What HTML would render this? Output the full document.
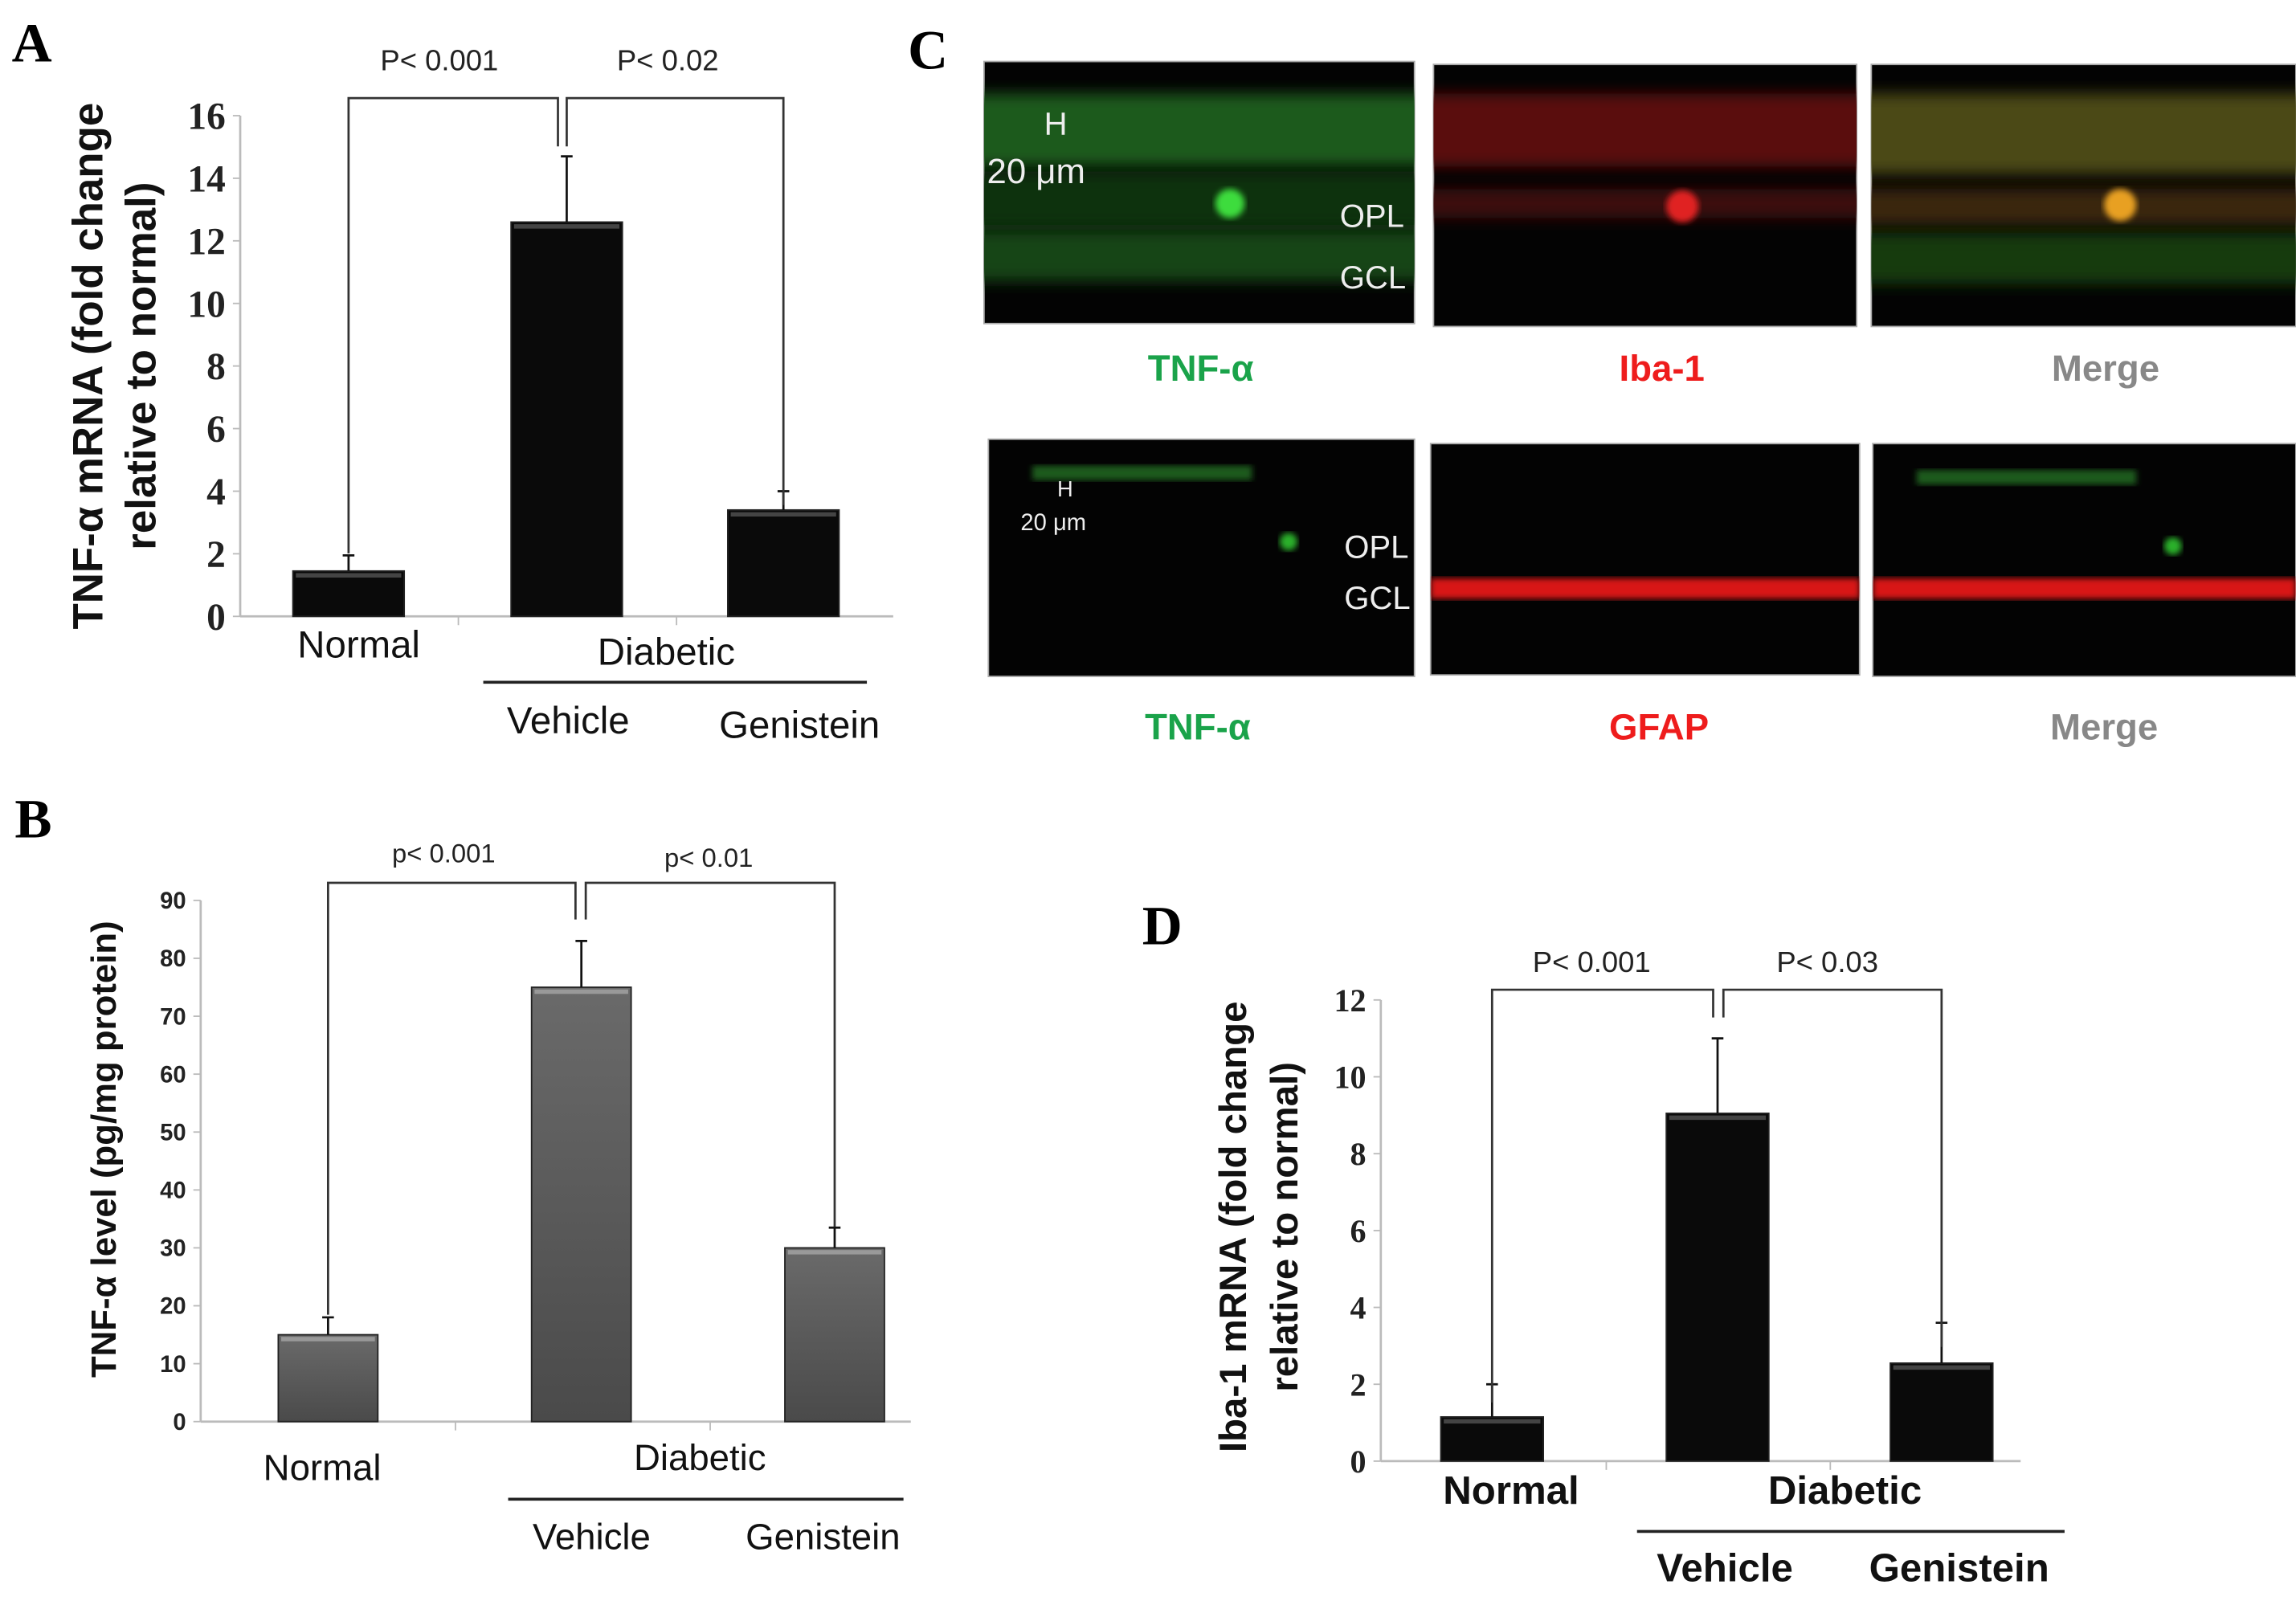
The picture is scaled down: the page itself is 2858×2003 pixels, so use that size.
<!DOCTYPE html>
<html><head><meta charset="utf-8"><style>
html,body{margin:0;padding:0;background:#fff;}
svg{display:block;}
text{font-family:"Liberation Sans",sans-serif;}
.ser{font-family:"Liberation Serif",serif;}
</style></head><body>
<svg id="fig" width="2858" height="2003" viewBox="0 0 1568 1099" xmlns="http://www.w3.org/2000/svg">
<defs>
<linearGradient id="gb" x1="0" x2="0" y1="0" y2="1"><stop offset="0" stop-color="#6a6a6a"/><stop offset="1" stop-color="#4a4a4a"/></linearGradient>
<filter id="blur" x="-20%" y="-50%" width="140%" height="200%"><feGaussianBlur stdDeviation="5"/></filter>
<filter id="blur2"><feGaussianBlur stdDeviation="2"/></filter>
</defs>
<g id="root"></g>
</svg>
<script>
// ---- Panel A data ----
const catsA = ["Normal", "Vehicle", "Genistein"];
const valsA = [1.45, 12.6, 3.4];
const errA = [1.95, 14.7, 4.0];
const ticksA = [0, 2, 4, 6, 8, 10, 12, 14, 16];
// ---- Panel B data ----
const catsB = ["Normal", "Vehicle", "Genistein"];
const valsB = [15, 75, 30];
const errB = [18, 83, 33.5];
const ticksB = [0, 10, 20, 30, 40, 50, 60, 70, 80, 90];
// ---- Panel D data ----
const catsD = ["Normal", "Vehicle", "Genistein"];
const valsD = [1.15, 9.05, 2.55];
const errD = [2.0, 11.0, 3.6];
const ticksD = [0, 2, 4, 6, 8, 10, 12];

const NS = "http://www.w3.org/2000/svg";
const root = document.getElementById("root");
function mk(tag, attrs, parent, txt) {
  const e = document.createElementNS(NS, tag);
  for (const k in attrs) e.setAttribute(k, attrs[k]);
  if (txt !== undefined) e.textContent = txt;
  (parent || root).appendChild(e);
  return e;
}

function chart(cfg) {
  const g = mk("g", {});
  
  
  const y = v => cfg.y0 - (v - cfg.min) / (cfg.max - cfg.min) * (cfg.y0 - cfg.yTop);
  const ax = mk("line", {x1: cfg.ax, y1: y(cfg.max), x2: cfg.ax, y2: cfg.y0, stroke: "#bbb", "stroke-width": 1.5}, g);
  
  
  const xl = mk("line", {x1: cfg.ax, y1: cfg.y0, x2: cfg.axEnd, y2: cfg.y0, stroke: "#bbb", "stroke-width": 1.5}, g);
  
  
  cfg.sep.forEach(sx => mk("line", {x1: sx, y1: cfg.y0, x2: sx, y2: cfg.y0 + 6, stroke: "#bbb"}, g));
  cfg.ticks.forEach(t => {
    mk("line", {x1: cfg.ax - 5, y1: y(t), x2: cfg.ax, y2: y(t), stroke: "#bbb"}, g);
    const tl = mk("text", {x: cfg.ax - 10, y: y(t) + cfg.tfs * 0.35, "text-anchor": "end", "font-size": cfg.tfs, "font-weight": "bold", class: cfg.tickSerif ? "ser" : "", fill: "#222"}, g, String(t));
    
    
  });
  cfg.vals.forEach((v, i) => {
    const cx = cfg.cx[i];
    const r = mk("rect", {x: cx - cfg.bw / 2, y: y(v), width: cfg.bw, height: cfg.y0 - y(v), fill: cfg.fill, stroke: "#222", "stroke-width": 1}, g);
    
    
    mk("line", {x1: cx - cfg.bw / 2 + 2, y1: y(v) + 3, x2: cx + cfg.bw / 2 - 2, y2: y(v) + 3, stroke: cfg.hl, "stroke-width": 3}, g);
    const e = cfg.err[i];
    const el = mk("path", {d: `M${cx},${y(v)}V${y(e)}M${cx - 4},${y(e)}H${cx + 4}`, stroke: "#111", "stroke-width": 1.5, fill: "none"}, g);
    
    
  });
  const b = cfg.br;
  const p1 = mk("path", {d: `M${cfg.cx[0]},${b.l0}V${b.top}H${b.m1}V${b.mid}`, stroke: "#333", "stroke-width": 1.5, fill: "none"}, g);
  
  
  const p2 = mk("path", {d: `M${b.m2},${b.mid}V${b.top}H${cfg.cx[2]}V${b.r0}`, stroke: "#333", "stroke-width": 1.5, fill: "none"}, g);
  
  
  cfg.ptxt.forEach(p => {
    const t = mk("text", {x: p[0], y: p[1], "text-anchor": "middle", "font-size": cfg.pfs, fill: "#222"}, g, p[2]);
    
    
  });
  cfg.labels.forEach(l => {
    const t = mk("text", {x: l[0], y: l[1], "text-anchor": "middle", "font-size": cfg.lfs, "font-weight": cfg.lbold ? "bold" : "normal", fill: "#111"}, g, l[2]);
    
    
  });
  mk("line", {x1: cfg.dline[0], y1: cfg.dline[2], x2: cfg.dline[1], y2: cfg.dline[2], stroke: "#222", "stroke-width": 2}, g);
  cfg.title.forEach(tt => {
    const t = mk("text", {x: 0, y: 0, transform: `translate(${tt[0]},${tt[1]}) rotate(-90)`, "text-anchor": "middle", "font-size": cfg.yfs, "font-weight": "bold", fill: "#111"}, g, tt[2]);
    
    
  });
}

chart({name: "panel-a-chart", cats: catsA, vals: valsA, err: errA, ticks: ticksA, min: 0, max: 16, y0: 421, yTop: 79, ax: 164, axEnd: 610, sep: [313, 462],
  cx: [238, 387, 535], bw: 76, fill: "#0a0a0a", hl: "#444", tfs: 26, tickSerif: true,
  br: {top: 67, l0: 378, m1: 381, m2: 387, mid: 100, r0: 345},
  ptxt: [[300, 48, "P< 0.001"], [456, 48, "P< 0.02"]], pfs: 20,
  labels: [[245, 449, "Normal"], [455, 454, "Diabetic"], [388, 501, "Vehicle"], [546, 504, "Genistein"]], lfs: 26,
  dline: [330, 592, 466], title: [[70, 250, "TNF-α mRNA  (fold change"], [106, 250, "relative to normal)"]], yfs: 29});

chart({name: "panel-b-chart", cats: catsB, vals: valsB, err: errB, ticks: ticksB, min: 0, max: 90, y0: 971, yTop: 615, ax: 137, axEnd: 622, sep: [311, 485],
  cx: [224, 397, 570], bw: 68, fill: "url(#gb)", hl: "#999", tfs: 16, tickSerif: false,
  br: {top: 603, l0: 898, m1: 393, m2: 400, mid: 628, r0: 838},
  ptxt: [[303, 589, "p< 0.001"], [484, 592, "p< 0.01"]], pfs: 18,
  labels: [[220, 1011, "Normal"], [478, 1004, "Diabetic"], [404, 1058, "Vehicle"], [562, 1058, "Genistein"]], lfs: 25,
  dline: [347, 617, 1024], title: [[79, 785, "TNF-α level (pg/mg protein)"]], yfs: 24});

chart({name: "panel-d-chart", cats: catsD, vals: valsD, err: errD, ticks: ticksD, min: 0, max: 12, y0: 998, yTop: 683, ax: 943, axEnd: 1380, sep: [1097, 1250],
  cx: [1019, 1173, 1326], bw: 70, fill: "#0a0a0a", hl: "#444", tfs: 22, tickSerif: true,
  br: {top: 676, l0: 958, m1: 1170, m2: 1177, mid: 695, r0: 920},
  ptxt: [[1087, 664, "P< 0.001"], [1248, 664, "P< 0.03"]], pfs: 20,
  labels: [[1032, 1027, "Normal"], [1260, 1027, "Diabetic"], [1178, 1080, "Vehicle"], [1338, 1080, "Genistein"]], lfs: 27, lbold: true,
  dline: [1118, 1410, 1046], title: [[851, 838, "Iba-1 mRNA (fold change"], [886, 838, "relative to normal)"]], yfs: 26});

[["A", 8, 42], ["B", 10, 572], ["C", 620, 47], ["D", 780, 645]].forEach(p => {
  const t = mk("text", {x: p[1], y: p[2], "font-size": 38, "font-weight": "bold", class: "ser", fill: "#000"}, root, p[0]);
  
  
});

const imgs = [
  {x: 672, y: 42, w: 294, h: 179, n: "tnf-top", g: 1, r: 0},
  {x: 979, y: 44, w: 289, h: 179, n: "iba1", g: 0, r: 1},
  {x: 1278, y: 44, w: 290, h: 179, n: "merge-top", g: 1, r: 1},
  {x: 675, y: 300, w: 291, h: 162, n: "tnf-bottom", g: 2, r: 0},
  {x: 977, y: 303, w: 293, h: 158, n: "gfap", g: 0, r: 2},
  {x: 1279, y: 303, w: 289, h: 159, n: "merge-bottom", g: 2, r: 2}
];
imgs.forEach(im => {
  const g = mk("g", {});
  
  
  mk("rect", {x: im.x, y: im.y, width: im.w, height: im.h, fill: "#030303", stroke: "#aaa", "stroke-width": 1}, g);
  const cp = "cp" + im.n;
  const c = mk("clipPath", {id: cp}, g); mk("rect", {x: im.x, y: im.y, width: im.w, height: im.h}, c);
  const gg = mk("g", {"clip-path": `url(#${cp})`}, g);
  if (im.g === 1 && im.r === 0) {
    mk("rect", {x: im.x - 10, y: im.y + 22, width: im.w + 20, height: 50, fill: "#1a5a1a", filter: "url(#blur)"}, gg);
    mk("rect", {x: im.x - 10, y: im.y + 75, width: im.w + 20, height: 40, fill: "#0c300c", filter: "url(#blur)"}, gg);
    mk("rect", {x: im.x - 10, y: im.y + 115, width: im.w + 20, height: 35, fill: "#144414", filter: "url(#blur)"}, gg);
    mk("circle", {cx: im.x + 168, cy: im.y + 97, r: 10, fill: "#3cdc3c", filter: "url(#blur2)"}, gg);
  } else if (im.r === 1 && im.g === 0) {
    mk("rect", {x: im.x - 10, y: im.y + 20, width: im.w + 20, height: 50, fill: "#5a0c0c", filter: "url(#blur)"}, gg);
    mk("rect", {x: im.x - 10, y: im.y + 85, width: im.w + 20, height: 20, fill: "#3e0808", filter: "url(#blur)"}, gg);
    mk("circle", {cx: im.x + 170, cy: im.y + 97, r: 11, fill: "#e02020", filter: "url(#blur2)"}, gg);
  } else if (im.r === 1 && im.g === 1) {
    mk("rect", {x: im.x - 10, y: im.y + 20, width: im.w + 20, height: 55, fill: "#4c4a14", filter: "url(#blur)"}, gg);
    mk("rect", {x: im.x - 10, y: im.y + 85, width: im.w + 20, height: 25, fill: "#3a280a", filter: "url(#blur)"}, gg);
    mk("rect", {x: im.x - 10, y: im.y + 115, width: im.w + 20, height: 35, fill: "#173a10", filter: "url(#blur)"}, gg);
    mk("circle", {cx: im.x + 170, cy: im.y + 96, r: 11, fill: "#e8a020", filter: "url(#blur2)"}, gg);
  } else {
    if (im.g === 2) {
      mk("rect", {x: im.x + 30, y: im.y + 18, width: 150, height: 10, fill: "#1f5a1f", filter: "url(#blur2)"}, gg);
      mk("circle", {cx: im.x + 205, cy: im.y + 70, r: 6, fill: "#2bb02b", filter: "url(#blur2)"}, gg);
    }
    if (im.r === 2) {
      mk("rect", {x: im.x, y: im.y + 92, width: im.w, height: 14, fill: "#d81818", filter: "url(#blur2)"}, gg);
    }
  }
});
[[713, 92, "H", 22], [674, 125, "20 μm", 24], [915, 155, "OPL", 22], [915, 197, "GCL", 22],
 [722, 339, "H", 15], [697, 362, "20 μm", 16], [918, 381, "OPL", 22], [918, 416, "GCL", 22]].forEach(t => {
  const e = mk("text", {x: t[0], y: t[1], "font-size": t[3], fill: "#eee"}, root, t[2]);
  
  
});
[[820, 260, "TNF-α", "#1aa34a"], [1135, 260, "Iba-1", "#ee1c1c"], [1438, 260, "Merge", "#888"],
 [818, 505, "TNF-α", "#1aa34a"], [1133, 505, "GFAP", "#ee1c1c"], [1437, 505, "Merge", "#888"]].forEach(t => {
  const e = mk("text", {x: t[0], y: t[1], "text-anchor": "middle", "font-size": 25, "font-weight": "bold", fill: t[3]}, root, t[2]);
  
  
});
</script>
</body></html>
